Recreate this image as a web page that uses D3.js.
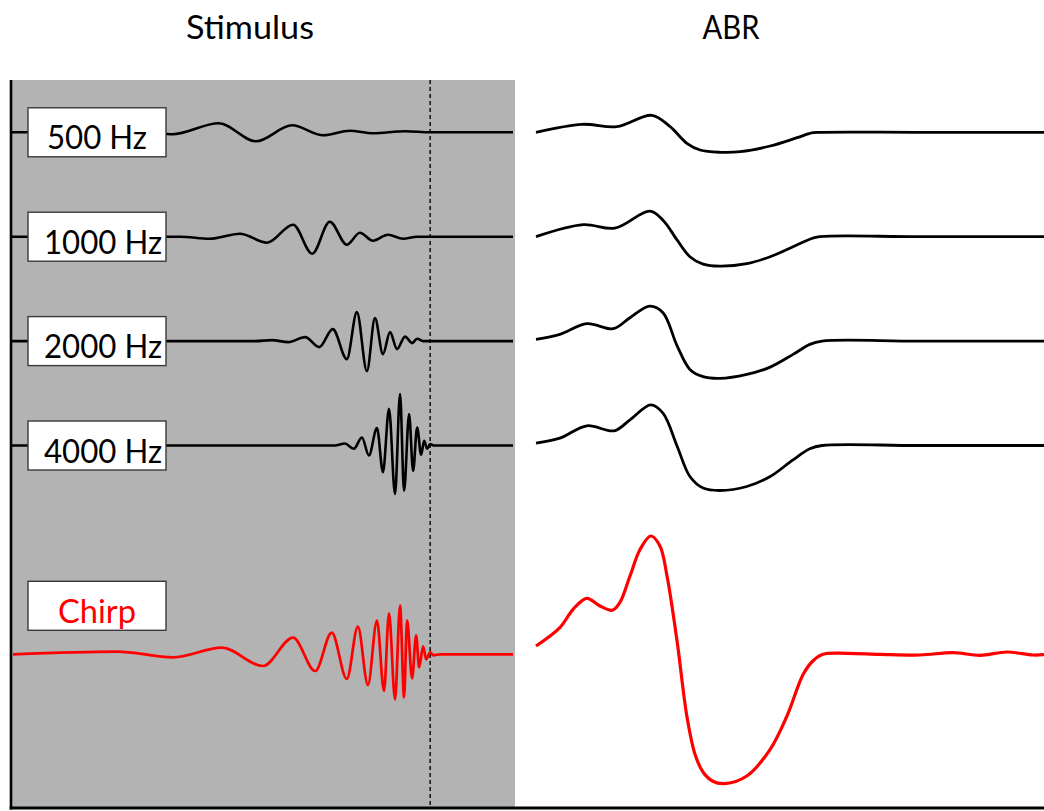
<!DOCTYPE html>
<html><head><meta charset="utf-8">
<script src="https://cdn.jsdelivr.net/npm/d3@7"></script>
<style>body{margin:0;background:#fff}svg{display:block}</style>
</head><body>
<svg id="c" width="1044" height="811"></svg>
<script>
// ---------- data (time in ms, amplitude in arbitrary units, up = positive) ----------
const panelTitles = ["Stimulus", "ABR"];
const labels = ["500 Hz", "1000 Hz", "2000 Hz", "4000 Hz", "Chirp"];
const rowSlots = [0, 1, 2, 3, 5];
const stimulusEnd = 8.35; // ms, dashed line

const stim500 = [[0,0],[2.77,0],[3.21,-0.2],[4.14,0.9],[4.88,-0.9],[5.60,0.7],[6.22,-0.3],[6.75,0.15],[7.21,-0.1],[7.85,0.1],[8.35,0],[10,0]];
const stim1000 = [[0,0],[3.37,0],[3.96,-0.2],[4.56,0.3],[5.10,-0.6],[5.62,1.2],[6.00,-1.7],[6.35,1.5],[6.69,-0.8],[6.95,0.4],[7.21,-0.4],[7.51,0.2],[7.81,-0.2],[8.09,0],[10,0]];
const stim2000 = [[0,0],[4.86,0],[5.20,0.1],[5.52,-0.1],[5.86,0.4],[6.14,-0.6],[6.41,1.2],[6.69,-1.8],[6.89,2.9],[7.09,-3.0],[7.25,2.3],[7.41,-1.3],[7.55,0.9],[7.69,-0.8],[7.85,0.45],[7.99,-0.2],[8.09,0.24],[8.21,0],[10,0]];
const stim4000 = [[0,0],[6.45,0],[6.65,0.2],[6.83,-0.33],[6.99,0.8],[7.13,-1.0],[7.29,1.74],[7.41,-2.66],[7.53,3.67],[7.65,-4.86],[7.75,5.14],[7.83,-4.53],[7.93,3.14],[8.01,-2.53],[8.09,1.8],[8.17,-0.93],[8.23,0.47],[8.29,-0.33],[8.35,0.14],[8.43,0],[10,0]];
const stimChirp = [[0.04,0],[2.11,0.27],[3.23,-0.3],[4.20,0.67],[5.02,-1.17],[5.62,1.67],[6.06,-1.67],[6.39,2.17],[6.69,-2.47],[6.91,2.77],[7.11,-3.07],[7.29,3.37],[7.43,-3.67],[7.53,4.1],[7.65,-4.5],[7.75,4.87],[7.83,-4.3],[7.89,3.4],[7.99,-2.4],[8.07,1.9],[8.13,-1.3],[8.21,0.8],[8.27,-0.5],[8.35,0.2],[8.41,-0.1],[8.55,0],[10,0]];

const abr500 = [[0,0],[0.91,0.8],[1.59,0.56],[2.28,1.7],[2.64,0.56],[2.97,-1.1],[3.23,-1.77],[3.62,-2.0],[4.02,-1.94],[4.61,-1.37],[5.14,-0.54],[5.45,-0.04],[5.63,0],[7.5,0],[10,0]];
const abr1000 = [[0,0],[0.93,1.2],[1.55,0.85],[2.24,2.55],[2.50,1.65],[2.78,-0.35],[3.03,-2.0],[3.29,-2.75],[3.62,-2.95],[4.15,-2.7],[4.61,-2.0],[5.06,-1.0],[5.39,-0.25],[5.59,0],[7.5,0],[10,0]];
const abr2000 = [[0,0.17],[0.47,0.67],[1.00,1.74],[1.52,1.24],[1.85,2.34],[2.24,3.5],[2.50,2.84],[2.78,-0.5],[3.03,-2.83],[3.29,-3.56],[3.62,-3.73],[4.15,-3.33],[4.61,-2.6],[5.06,-1.33],[5.39,-0.33],[5.63,0],[7.5,0],[10,0]];
const abr4000 = [[0,0.24],[0.47,0.74],[1.00,1.97],[1.54,1.47],[1.85,2.57],[2.26,4.07],[2.50,3.24],[2.78,-0.1],[3.03,-3.1],[3.29,-4.26],[3.62,-4.5],[4.15,-4.1],[4.61,-3.1],[5.06,-1.43],[5.39,-0.33],[5.63,0],[7.5,0],[10,0]];
const abrChirp = [[0,0.83],[0.47,2.67],[0.73,4.5],[1.00,5.6],[1.26,4.83],[1.50,4.4],[1.65,5.17],[1.85,7.83],[2.05,10.5],[2.26,11.83],[2.44,10.83],[2.58,7.8],[2.78,1.2],[2.97,-6.2],[3.13,-10.0],[3.29,-11.8],[3.48,-12.7],[3.72,-12.93],[4.15,-12.17],[4.61,-9.5],[4.94,-6.17],[5.26,-2.0],[5.45,-0.67],[5.65,0],[6.12,0.1],[6.77,0],[7.56,-0.07],[8.21,0.17],[8.74,-0.1],[9.27,0.23],[9.78,-0.07],[10,-0.03]];

const stimSeries = [stim500, stim1000, stim2000, stim4000, stimChirp];
const abrSeries = [abr500, abr1000, abr2000, abr4000, abrChirp];
const seriesColors = ["#000", "#000", "#000", "#000", "#ff0000"];

// ---------- layout ----------
const svg = d3.select("#c");
const panel = {left: 11, right: 515, top: 80, bottom: 808};
const xStim = d3.scaleLinear().domain([0, 10]).range([11, 513]);
const xAbr = d3.scaleLinear().domain([0, 10]).range([536, 1044]);
const yRow = d3.scaleLinear().domain([0, 5]).range([132.3, 654.3]);
const yAmp = d3.scaleLinear().domain([-1, 1]).range([10, -10]);
const FONT = "Lato, 'Open Sans', sans-serif";

// grey stimulus panel
svg.append("rect")
  .attr("x", panel.left).attr("y", panel.top)
  .attr("width", panel.right - panel.left).attr("height", panel.bottom - panel.top)
  .attr("fill", "#b3b3b3");

// dashed end-of-stimulus line
svg.append("line")
  .attr("x1", xStim(stimulusEnd)).attr("x2", xStim(stimulusEnd))
  .attr("y1", panel.top).attr("y2", panel.bottom)
  .attr("stroke", "#1a1a1a").attr("stroke-width", 1.6)
  .attr("stroke-dasharray", "4,3");

// traces
function lineFor(xs, row, curve) {
  return d3.line()
    .x(d => xs(d[0]))
    .y(d => yRow(row) + yAmp(d[1]))
    .curve(curve);
}
stimSeries.forEach((s, i) => {
  svg.append("path").attr("d", lineFor(xStim, rowSlots[i], d3.curveMonotoneX)(s))
    .attr("fill", "none").attr("stroke", seriesColors[i])
    .attr("stroke-width", i === 4 ? 2.7 : 2.6).attr("stroke-linejoin", "round");
});
abrSeries.forEach((s, i) => {
  svg.append("path").attr("d", lineFor(xAbr, rowSlots[i], d3.curveCatmullRom.alpha(0.5))(s))
    .attr("fill", "none").attr("stroke", seriesColors[i])
    .attr("stroke-width", i === 4 ? 3.2 : 2.8).attr("stroke-linejoin", "round");
});

// label boxes
const boxW = 138, boxH = 49;
labels.forEach((lab, i) => {
  const cy = i === 4 ? yRow(rowSlots[i]) - 48.5 : yRow(rowSlots[i]);
  const bx = 28;
  svg.append("rect")
    .attr("x", bx).attr("y", cy - boxH / 2)
    .attr("width", boxW).attr("height", boxH)
    .attr("fill", "#fff").attr("stroke", "#3a3a3a").attr("stroke-width", 1.4);
  const wide = lab.length > 6;
  const t = svg.append("text")
    .attr("x", wide ? bx + 16 : bx + boxW / 2)
    .attr("y", cy + 17)
    .attr("text-anchor", wide ? "start" : "middle")
    .attr("font-family", FONT).attr("font-size", 32)
    .attr("fill", seriesColors[i])
    .text(lab);
  const targetW = wide ? 118 : (i === 4 ? 78 : 100);
  t.attr("textLength", targetW).attr("lengthAdjust", "spacingAndGlyphs");
});

// axes lines
svg.append("line").attr("x1", panel.left).attr("x2", panel.left)
  .attr("y1", panel.top).attr("y2", panel.bottom + 1.5)
  .attr("stroke", "#000").attr("stroke-width", 2.6);
svg.append("line").attr("x1", panel.left - 1.3).attr("x2", 1044)
  .attr("y1", panel.bottom).attr("y2", panel.bottom)
  .attr("stroke", "#000").attr("stroke-width", 3);

// titles
const titleX = [250, 731];
const titleW = [128, 57];
panelTitles.forEach((tt, i) => {
  svg.append("text").attr("x", titleX[i]).attr("y", 39)
    .attr("text-anchor", "middle")
    .attr("font-family", FONT).attr("font-size", 33)
    .attr("fill", "#000")
    .attr("textLength", titleW[i]).attr("lengthAdjust", "spacingAndGlyphs")
    .text(tt);
});
</script>
</body></html>
